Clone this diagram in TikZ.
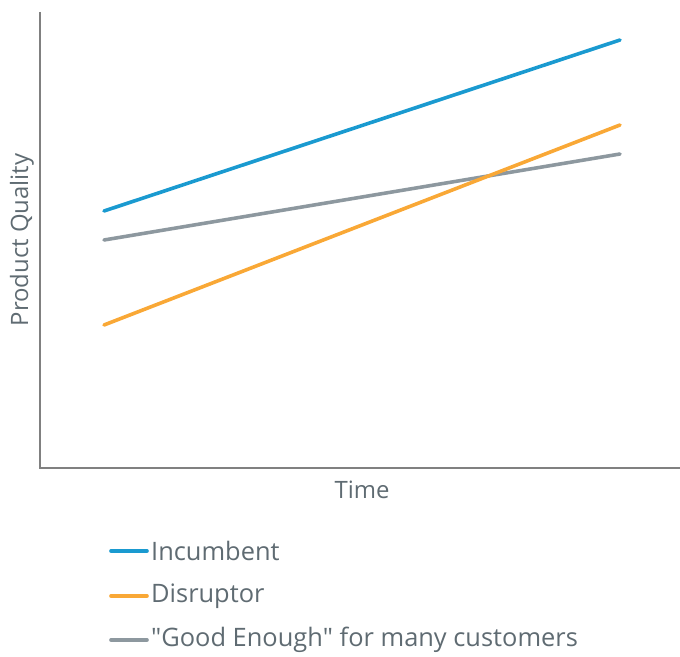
\documentclass[tikz,border=0pt]{standalone}
\usepackage{fontspec}
\setmainfont{Open Sans}
\newfontfamily\plainquote{Open Sans}
\usetikzlibrary{positioning}

\definecolor{incblue}{HTML}{1A9AD0}
\definecolor{disorange}{HTML}{F9A836}
\definecolor{goodgray}{HTML}{8D989F}
\definecolor{axisgray}{HTML}{808080}
\definecolor{textgray}{HTML}{5F6B72}

\tikzset{
  axisline/.style={draw=axisgray, line width=1.6bp},
  dataline/.style={line width=3.6bp, line cap=round},
  labeltext/.style={text=textgray, font=\fontsize{24}{28}\selectfont, inner sep=0pt},
  legendtext/.style={text=textgray, font=\fontsize{25.5}{30}\selectfont, inner sep=0pt, anchor=west},
}

\begin{document}
\begin{tikzpicture}[x=1bp, y=-1bp]
\useasboundingbox (0,0) rectangle (680,657);

% axes
\coordinate (top) at (40,12);
\coordinate (origin) at (40,468);
\coordinate (right) at (680,468);
\draw[axisline] (top) -- (origin) -- (right);
\node[labeltext, rotate=90] (ylab) at (22,240) {Product Quality};
\node[labeltext] (xlab) at (362,490) {Time};

% data lines
\coordinate (inc1) at (104,211);
\coordinate (inc2) at (620,40);
\coordinate (dis1) at (104,325);
\coordinate (dis2) at (620,125);
\coordinate (good1) at (104,240);
\coordinate (good2) at (620,154);
\draw[dataline, incblue] (inc1) -- (inc2);
\draw[dataline, goodgray] (good1) -- (good2);
\draw[dataline, disorange] (dis1) -- (dis2);

% legend
\coordinate (leg1a) at (111,551);
\coordinate (leg1b) at (147,551);
\coordinate (leg2a) at (111,596);
\coordinate (leg2b) at (147,596);
\coordinate (leg3a) at (111,640);
\coordinate (leg3b) at (147,640);
\draw[dataline, incblue] (leg1a) -- (leg1b);
\draw[dataline, disorange] (leg2a) -- (leg2b);
\draw[dataline, goodgray] (leg3a) -- (leg3b);
\node[legendtext] (inc) at (151,551) {Incumbent};
\node[legendtext] (dis) at (151,596) {Disruptor};
\node[legendtext] (good) at (151,640) {{\plainquote"}Good Enough{\plainquote"} for many customers};
\end{tikzpicture}
\end{document}
